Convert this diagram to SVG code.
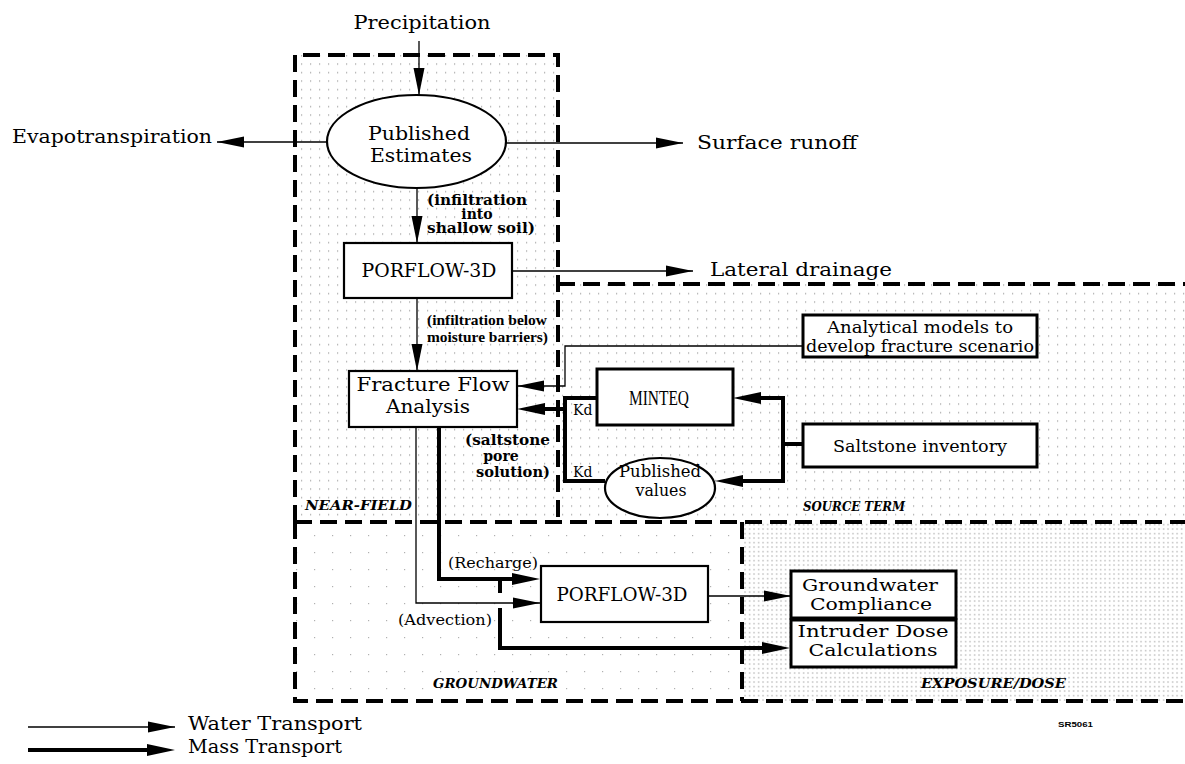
<svg xmlns="http://www.w3.org/2000/svg" width="1185" height="764" viewBox="0 0 1185 764">
  <defs>
    <!-- stipple fills for the zones -->
    <pattern id="dots" width="9" height="8.5" patternUnits="userSpaceOnUse">
      <rect x="4" y="4" width="1.2" height="1.2" fill="#9c9c9c"/>
    </pattern>
    <pattern id="dotsSparse" width="18" height="17" patternUnits="userSpaceOnUse">
      <rect x="8" y="8" width="1.2" height="1.2" fill="#b0b0b0"/>
    </pattern>
    <pattern id="dotsDense" width="4.5" height="4.5" patternUnits="userSpaceOnUse">
      <rect x="2" y="2" width="1.2" height="1.2" fill="#9a9a9a"/>
    </pattern>
    <!-- arrowheads: thin (water) tip at refX, thick (mass) centred on line end -->
    <marker id="aw" markerUnits="userSpaceOnUse" markerWidth="28" markerHeight="12" refX="27" refY="5.5" orient="auto" overflow="visible">
      <path d="M0,0 L27,5.5 L0,11 Z" fill="#000"/>
    </marker>
    <marker id="am" markerUnits="userSpaceOnUse" markerWidth="30" markerHeight="13" refX="14" refY="6" orient="auto" overflow="visible">
      <path d="M0,0 L28,6 L0,12 Z" fill="#000"/>
    </marker>
    <style>
      .zone { fill: none; stroke: #000; stroke-width: 4; stroke-dasharray: 17 8; }
      .box { fill: #fff; stroke: #000; stroke-width: 2.2; }
      .boxb { fill: #fff; stroke: #000; stroke-width: 3; }
      .w { fill: none; stroke: #000; stroke-width: 1.3; }
      .m { fill: none; stroke: #000; stroke-width: 4; }
      .t { font-family: "DejaVu Serif", "Liberation Serif", serif; font-size: 18px; fill: #000; }
      .s16 { font-size: 16px; }
      .s17 { font-size: 17px; }
      .c { text-anchor: middle; }
      .e { text-anchor: end; }
      .nb { font-family: "DejaVu Serif", "Liberation Serif", serif; font-size: 14px; font-weight: bold; fill: #000; }
      .n { font-family: "Liberation Serif", "DejaVu Serif", serif; font-size: 15px; font-weight: bold; fill: #000; }
      .r { font-family: "DejaVu Serif", "Liberation Serif", serif; font-size: 15px; fill: #000; }
      .z { font-family: "DejaVu Serif", "Liberation Serif", serif; font-size: 12.5px; font-weight: bold; font-style: italic; fill: #000; }
      .kd { font-family: "DejaVu Serif", serif; font-size: 14px; fill: #000; }
      .mt { font-family: "Liberation Serif", "DejaVu Serif", serif; font-size: 20px; fill: #000; }
    </style>
  </defs>

  <rect width="1185" height="764" fill="#fff"/>

  <!-- zone stipple -->
  <g id="zone-fills">
    <rect x="295" y="55" width="263" height="467" fill="url(#dots)"/>
    <rect x="558" y="284" width="627" height="238" fill="url(#dots)"/>
    <rect x="295" y="522" width="447" height="179" fill="url(#dotsSparse)"/>
    <rect x="742" y="522" width="443" height="179" fill="url(#dotsDense)"/>
  </g>

  <!-- zone boundaries -->
  <g id="zones">
    <path class="zone" d="M295,522 V55 H558 V522"/>
    <path class="zone" d="M558,284 H1190"/>
    <path class="zone" d="M295,522 H1190"/>
    <path class="zone" d="M295,522 V701 H1190"/>
    <path class="zone" d="M742,522 V701"/>
  </g>

  <!-- connectors -->
  <g id="connectors">
    <path class="w" d="M419,41 V95" marker-end="url(#aw)"/>
    <path class="w" d="M327,142 H217" marker-end="url(#aw)"/>
    <path class="w" d="M506,143 H683" marker-end="url(#aw)"/>
    <path class="w" d="M417,188 V243" marker-end="url(#aw)"/>
    <path class="w" d="M512,271 H693" marker-end="url(#aw)"/>
    <path class="w" d="M417,298 V371" marker-end="url(#aw)"/>
    <path class="w" d="M803,346 H565 V386 H517" marker-end="url(#aw)"/>
    <path class="w" d="M416,427 V603 H540" marker-end="url(#aw)"/>
    <path class="w" d="M708,596 H791" stroke-width="2" marker-end="url(#aw)"/>

    <path class="m" d="M597,398 H565 V481 H605"/>
    <path class="m" d="M565,409 H531" marker-end="url(#am)"/>
    <path class="m" d="M803,444 H783"/>
    <path class="m" d="M783,396 V483"/>
    <path class="m" d="M785,398 H747" marker-end="url(#am)"/>
    <path class="m" d="M785,481 H729" marker-end="url(#am)"/>
    <path class="m" d="M439,427 V579 H526" marker-end="url(#am)"/>
    <path class="m" d="M500,579 V593"/>
    <path class="m" d="M500,608 V648 H776" marker-end="url(#am)"/>

    <!-- legend -->
    <path class="w" d="M28,727 H175" marker-end="url(#aw)"/>
    <path class="m" d="M28,750 H161" marker-end="url(#am)"/>
  </g>

  <!-- nodes -->
  <g id="published-estimates">
    <ellipse class="box" cx="416.5" cy="141.5" rx="89.5" ry="46.5"/>
    <text class="t c" x="419" y="140" textLength="102" lengthAdjust="spacingAndGlyphs">Published</text>
    <text class="t c" x="421" y="162" textLength="102" lengthAdjust="spacingAndGlyphs">Estimates</text>
  </g>
  <g id="porflow-unsat">
    <rect class="box" x="344" y="243" width="168" height="55"/>
    <text class="t c" x="429" y="277" textLength="135" lengthAdjust="spacingAndGlyphs">PORFLOW-3D</text>
  </g>
  <g id="fracture-flow">
    <rect class="box" x="349" y="371" width="168" height="56"/>
    <text class="t c" x="433" y="391" textLength="153" lengthAdjust="spacingAndGlyphs">Fracture Flow</text>
    <text class="t c" x="428" y="413" textLength="84" lengthAdjust="spacingAndGlyphs">Analysis</text>
  </g>
  <g id="analytical-models">
    <rect class="boxb" x="803" y="315" width="234" height="42"/>
    <text class="t s16 c" x="920" y="333" textLength="186" lengthAdjust="spacingAndGlyphs">Analytical models to</text>
    <text class="t s16 c" x="920" y="352" textLength="228" lengthAdjust="spacingAndGlyphs">develop fracture scenario</text>
  </g>
  <g id="minteq">
    <rect class="boxb" x="597" y="369" width="136" height="56"/>
    <text class="mt c" x="659" y="405" textLength="60" lengthAdjust="spacingAndGlyphs">MINTEQ</text>
  </g>
  <g id="published-values">
    <ellipse class="box" cx="660" cy="488" rx="55" ry="30" stroke-width="2.6"/>
    <text class="t s17 c" x="660" y="477" textLength="82" lengthAdjust="spacingAndGlyphs">Published</text>
    <text class="t s17 c" x="661" y="496" textLength="51" lengthAdjust="spacingAndGlyphs">values</text>
  </g>
  <g id="saltstone-inventory">
    <rect class="boxb" x="803" y="424" width="234" height="43"/>
    <text class="t s17 c" x="920" y="452" textLength="174" lengthAdjust="spacingAndGlyphs">Saltstone inventory</text>
  </g>
  <g id="porflow-groundwater">
    <rect class="box" x="541" y="566" width="167" height="56"/>
    <text class="t c" x="622" y="601" textLength="131" lengthAdjust="spacingAndGlyphs">PORFLOW-3D</text>
  </g>
  <g id="groundwater-compliance">
    <rect class="boxb" x="791" y="571" width="165" height="47"/>
    <text class="t s16 c" x="870" y="591" textLength="136" lengthAdjust="spacingAndGlyphs">Groundwater</text>
    <text class="t s16 c" x="871" y="610" textLength="122" lengthAdjust="spacingAndGlyphs">Compliance</text>
  </g>
  <g id="intruder-dose">
    <rect class="boxb" x="791" y="620" width="165" height="47"/>
    <text class="t s16 c" x="873" y="637" textLength="151" lengthAdjust="spacingAndGlyphs">Intruder Dose</text>
    <text class="t s16 c" x="873" y="656" textLength="129" lengthAdjust="spacingAndGlyphs">Calculations</text>
  </g>

  <!-- sources and sinks -->
  <g id="precipitation"><text class="t c" x="422" y="29" textLength="137" lengthAdjust="spacingAndGlyphs">Precipitation</text></g>
  <g id="evapotranspiration"><text class="t" x="12" y="143" textLength="200" lengthAdjust="spacingAndGlyphs">Evapotranspiration</text></g>
  <g id="surface-runoff"><text class="t" x="697" y="149" textLength="160" lengthAdjust="spacingAndGlyphs">Surface runoff</text></g>
  <g id="lateral-drainage"><text class="t" x="710" y="276" textLength="182" lengthAdjust="spacingAndGlyphs">Lateral drainage</text></g>

  <!-- connector labels -->
  <g id="labels">
    <text class="nb" x="427" y="205" textLength="100" lengthAdjust="spacingAndGlyphs">(infiltration</text>
    <text class="nb c" x="477" y="219">into</text>
    <text class="nb" x="427" y="233" textLength="108" lengthAdjust="spacingAndGlyphs">shallow soil)</text>
    <text class="n" x="427" y="325" textLength="120" lengthAdjust="spacingAndGlyphs">(infiltration below</text>
    <text class="n" x="427" y="342" textLength="121" lengthAdjust="spacingAndGlyphs">moisture barriers)</text>
    <text class="nb e" x="550" y="445" textLength="85" lengthAdjust="spacingAndGlyphs">(saltstone</text>
    <text class="nb c" x="501" y="461">pore</text>
    <text class="nb e" x="550" y="477" textLength="74" lengthAdjust="spacingAndGlyphs">solution)</text>
    <text class="kd" x="573" y="415">Kd</text>
    <text class="kd" x="573" y="477">Kd</text>
    <text class="r" x="448" y="568" textLength="90" lengthAdjust="spacingAndGlyphs">(Recharge)</text>
    <text class="r" x="398" y="625" textLength="94" lengthAdjust="spacingAndGlyphs">(Advection)</text>
  </g>

  <!-- zone titles -->
  <g id="zone-titles">
    <text class="z" x="305" y="510" textLength="107" lengthAdjust="spacingAndGlyphs">NEAR-FIELD</text>
    <text class="z" x="803" y="511" textLength="102" lengthAdjust="spacingAndGlyphs">SOURCE TERM</text>
    <text class="z" x="433" y="688" textLength="125" lengthAdjust="spacingAndGlyphs">GROUNDWATER</text>
    <text class="z" x="921" y="688" textLength="145" lengthAdjust="spacingAndGlyphs">EXPOSURE/DOSE</text>
  </g>

  <!-- legend and drawing number -->
  <g id="legend">
    <text class="t" x="188" y="730" textLength="174" lengthAdjust="spacingAndGlyphs">Water Transport</text>
    <text class="t" x="188" y="753" textLength="154" lengthAdjust="spacingAndGlyphs">Mass Transport</text>
    <text x="1058" y="727" font-family="Liberation Sans, sans-serif" font-size="8" font-weight="bold" textLength="35" lengthAdjust="spacingAndGlyphs">SR5061</text>
  </g>
</svg>
